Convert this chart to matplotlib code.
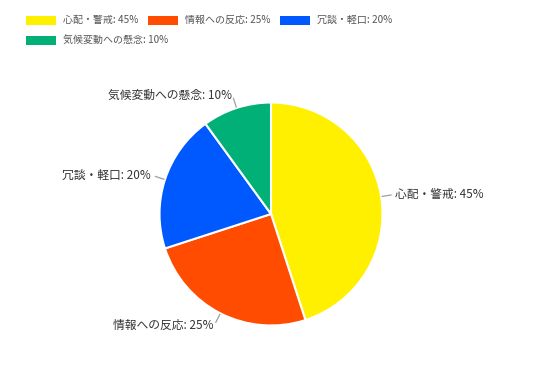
import numpy as np
import matplotlib
matplotlib.use("Agg")
import matplotlib.pyplot as plt
from matplotlib.patches import Rectangle

plt.rcParams['font.family'] = ['Noto Sans CJK JP', 'DejaVu Sans']

categories = ['心配・警戒', '情報への反応', '冗談・軽口', '気候変動への懸念']
values = [45, 25, 20, 10]
colors = ['#FFF000', '#FF4C00', '#0058FF', '#00B077']

W, H = 541, 383
fig = plt.figure(figsize=(W / 100, H / 100), dpi=100)
ax = fig.add_axes([0, 0, 1, 1])

cx, cy, r = 271, H - 214, 111.5
wedges, _ = ax.pie(values, colors=colors, startangle=90, counterclock=False,
                   center=(cx, cy), radius=r, frame=True,
                   wedgeprops=dict(edgecolor='white', linewidth=1.5))
ax.set_xlim(0, W)
ax.set_ylim(0, H)
ax.set_aspect('equal')
ax.axis('off')

# outside labels with short leader lines
for w, cat, v in zip(wedges, categories, values):
    ang = np.deg2rad((w.theta1 + w.theta2) / 2)
    ca, sa = np.cos(ang), np.sin(ang)
    ax.plot([cx + r * 1.01 * ca, cx + r * 1.09 * ca],
            [cy + r * 1.01 * sa, cy + r * 1.09 * sa], color='#9e9e9e', lw=0.9)
    tx, ty = cx + r * 1.13 * ca, cy + r * 1.12 * sa
    ax.text(tx, ty, f'{cat}: {v}%', ha='left' if ca > 0 else 'right',
            va='center', fontsize=8.5, color='#333333')

# legend at the top
legend_pos = [(26, 20), (148, 20), (280, 20), (26, 40)]
for (lx, ly), cat, v, c in zip(legend_pos, categories, values, colors):
    ax.add_patch(Rectangle((lx, H - ly - 4.5), 30, 9, color=c, lw=0))
    ax.text(lx + 37, H - ly, f'{cat}: {v}%', ha='left', va='center',
            fontsize=7.2, color='#555555')

fig.savefig('out.png', dpi=100)
